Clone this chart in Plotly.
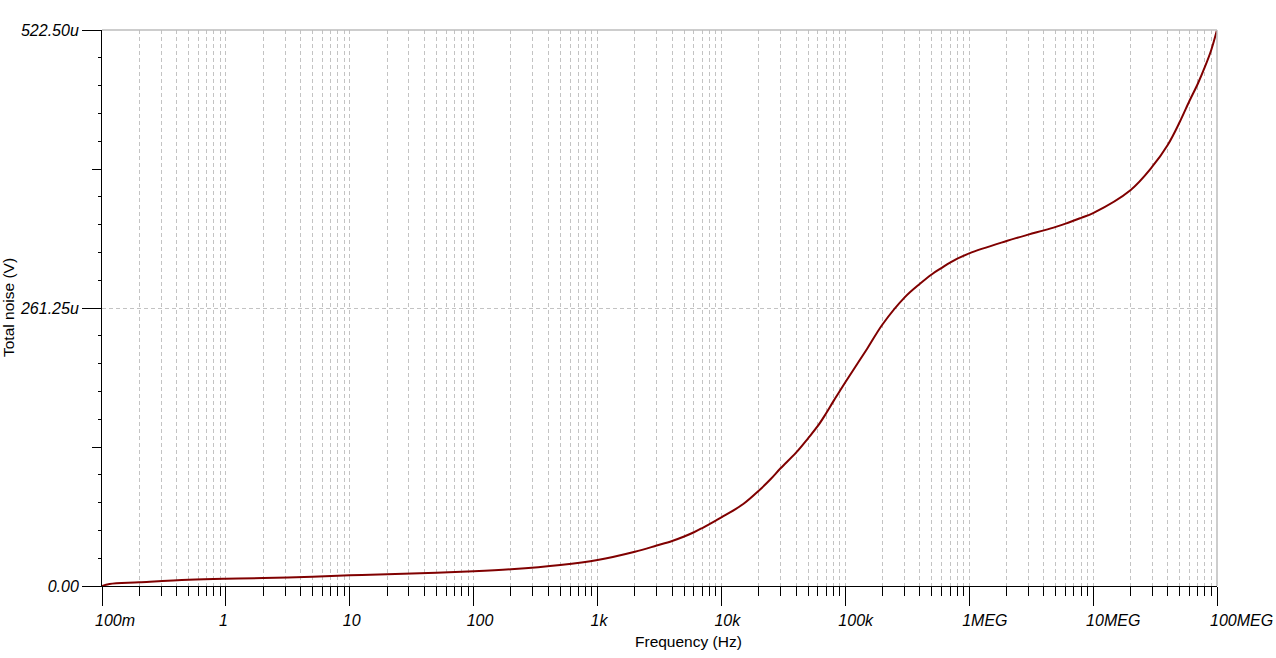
import plotly.graph_objects as go

# ---- data ----
freq_hz = [0.1, 0.115, 0.2, 0.5, 1, 2, 5, 10, 20, 50, 100, 200, 500,
           1e3, 2e3, 3e3, 4e3, 5e3, 6e3, 7e3, 8e3, 9e3,
           1e4, 1.5e4, 2e4, 2.5e4, 3e4, 4e4, 5e4, 6e4, 7e4, 8e4, 9e4,
           1e5, 1.5e5, 2e5, 3e5, 4e5, 5e5, 6e5, 7e5,
           1e6, 2e6, 3e6, 4e6, 5e6, 6e6, 8e6,
           1e7, 2e7, 3e7, 4e7, 5e7, 6e7, 7e7, 8e7, 9e7, 1e8]
noise_uv = [0.0, 1.9, 3.5, 5.9, 6.9, 7.5, 8.8, 10.0, 11.0, 12.5, 13.8, 15.7, 19.7,
            24.4, 32.2, 38.0, 42.3, 46.5, 50.5, 54.5, 58.2, 61.5,
            64.5, 77.0, 89.5, 100.5, 110.6, 125.3, 138.8, 150.4, 162.3, 173.5, 183.0,
            191.5, 223.0, 246.0, 271.0, 284.0, 293.0, 299.0, 304.0,
            312.6, 324.2, 330.2, 334.2, 337.5, 340.5, 346.0,
            350.5, 372.0, 394.0, 414.4, 436.0, 456.0, 472.0, 488.0, 504.0, 522.5]

x_tickvals = [0.1, 1, 10, 100, 1e3, 1e4, 1e5, 1e6, 1e7, 1e8]
x_ticktext = ["100m", "1", "10", "100", "1k", "10k", "100k", "1MEG", "10MEG", "100MEG"]
x_minorvals = [m * 10 ** e for e in range(-1, 8) for m in range(2, 10)]

y_tickvals = [0.0, 261.25, 522.5]
y_ticktext = ["0.00", "261.25u", "522.50u"]
y_midvals = [130.625, 391.875]
y_minor_step = 26.125
y_max = 522.5

x_title = "Frequency (Hz)"
y_title = "Total noise (V)"

FONT = "Liberation Sans, Arial, sans-serif"
GRID = "#c3c3c3"

fig = go.Figure()
fig.add_trace(go.Scatter(x=freq_hz, y=noise_uv, mode="lines",
                         line=dict(color="#800000", width=2, shape="spline", smoothing=1.0),
                         hoverinfo="skip", showlegend=False))
# invisible trace on the secondary y axis (medium ticks)
fig.add_trace(go.Scatter(x=[freq_hz[0]], y=[noise_uv[0]], yaxis="y2", mode="markers",
                         marker=dict(opacity=0), hoverinfo="skip", showlegend=False))

fig.update_layout(
    width=1276, height=658, autosize=False,
    margin=dict(l=102, r=59, t=30, b=72, autoexpand=False),
    paper_bgcolor="white", plot_bgcolor="white",
    font=dict(family=FONT, color="black"),
    xaxis=dict(type="log", range=[-1, 8], automargin=False,
               tickmode="array", tickvals=x_tickvals, ticktext=x_ticktext,
               ticks="outside", ticklen=19, tickwidth=1, tickcolor="black",
               tickfont=dict(family=FONT, size=16, style="italic", color="black"),
               ticklabelposition="outside right", ticklabelshift=-8,
               ticklabelstandoff=20, ticklabeloverflow="allow",
               showline=True, linecolor="black", linewidth=1,
               showgrid=True, gridcolor=GRID, griddash="4px,3px", gridwidth=1,
               zeroline=False,
               minor=dict(tickmode="array", tickvals=x_minorvals, ticks="outside",
                          ticklen=9, tickwidth=1, tickcolor="black",
                          showgrid=True, gridcolor=GRID, griddash="4px,3px", gridwidth=1)),
    yaxis=dict(range=[0, y_max], automargin=False,
               tickmode="array", tickvals=y_tickvals, ticktext=y_ticktext,
               ticks="outside", ticklen=19, tickwidth=1, tickcolor="black",
               tickfont=dict(family=FONT, size=16, style="italic", color="black"),
               showline=True, linecolor="black", linewidth=1,
               showgrid=True, gridcolor=GRID, griddash="4px,3px", gridwidth=1,
               zeroline=False,
               minor=dict(tick0=0, dtick=y_minor_step, ticks="outside", ticklen=3,
                          tickwidth=1, tickcolor="black", showgrid=False)),
    yaxis2=dict(range=[0, y_max], overlaying="y", side="left", anchor="x", automargin=False,
                tickmode="array", tickvals=y_midvals, ticks="outside", ticklen=9,
                tickwidth=1, tickcolor="black", showticklabels=False,
                showgrid=False, zeroline=False, showline=False),
    shapes=[
        dict(type="line", xref="paper", yref="paper", x0=0, x1=1, y0=1, y1=1,
             line=dict(color="#bdbdbd", width=1.5), layer="above"),
        dict(type="line", xref="paper", yref="paper", x0=1, x1=1, y0=0, y1=1,
             line=dict(color="#bdbdbd", width=1.5), layer="above"),
    ],
    annotations=[
        dict(text=x_title, xref="paper", yref="paper", x=0.5256, y=-0.1007,
             xanchor="center", yanchor="middle", showarrow=False,
             font=dict(family=FONT, size=15.5, color="black")),
        dict(text=y_title, xref="paper", yref="paper", x=-0.0843, y=0.5,
             xanchor="center", yanchor="middle", textangle=-90, showarrow=False,
             font=dict(family=FONT, size=15.5, color="black")),
    ],
)

fig.write_html("out.html",
               config={"responsive": False, "displayModeBar": False, "staticPlot": True},
               post_script="document.body.style.margin='0';document.body.style.overflow='hidden';")
